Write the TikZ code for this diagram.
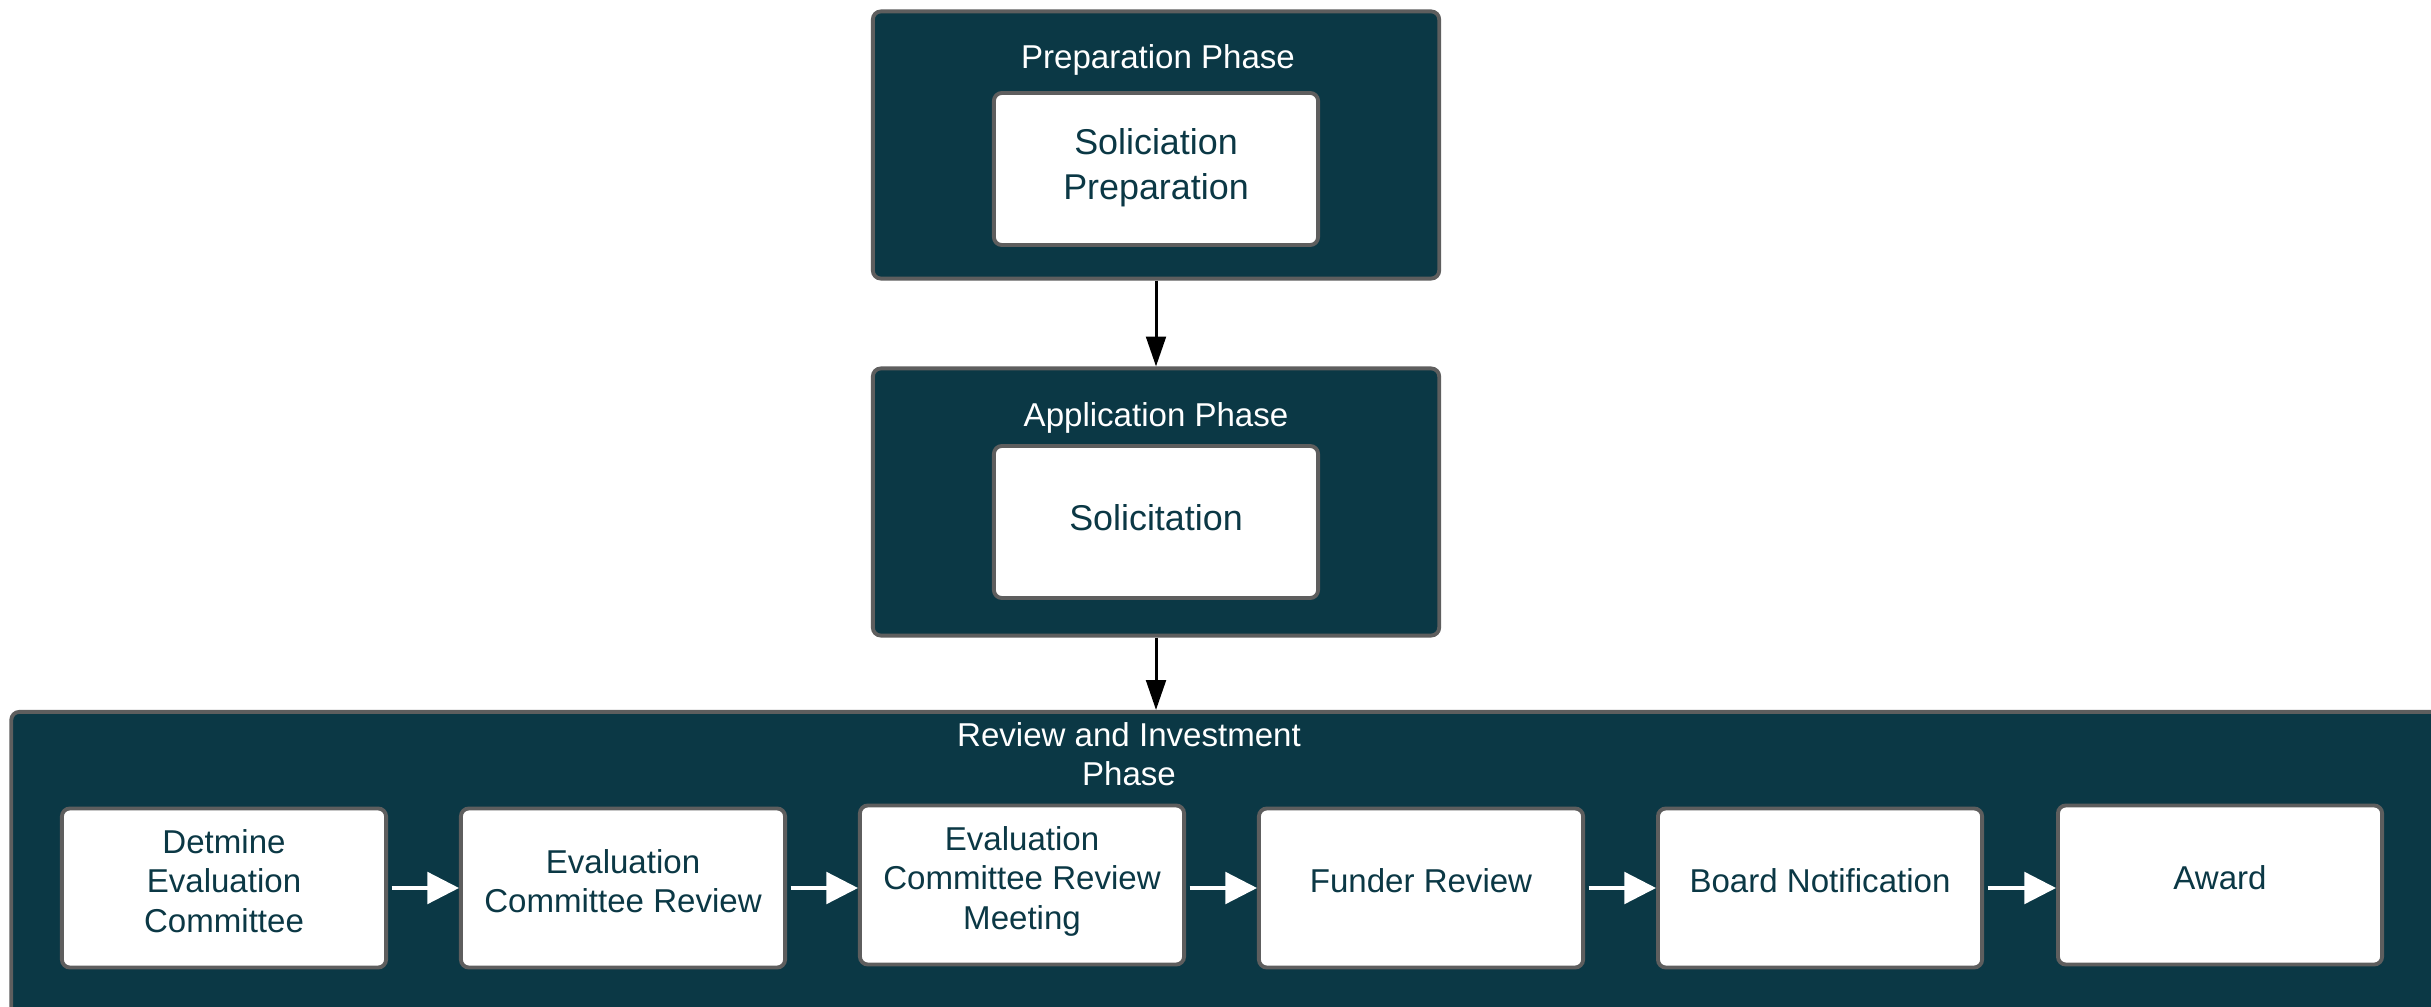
\documentclass[tikz,border=0pt]{standalone}
\usepackage{fontspec}
\setmainfont{Liberation Sans}
\usetikzlibrary{arrows.meta, positioning}
\definecolor{phaseteal}{HTML}{0B3845}
\definecolor{edgegray}{HTML}{5E5E5E}

\begin{document}
\begin{tikzpicture}[x=0.01cm, y=-0.01cm,
    phase/.style={draw=edgegray, line width=1.1pt, fill=phaseteal, rounded corners=0.08cm, minimum width=5.66cm, minimum height=2.67cm},
    phasetitle/.style={text=white, font=\fontsize{9.4}{11.2}\selectfont, align=center},
    stepbox/.style={draw=edgegray, line width=1.1pt, fill=white, rounded corners=0.08cm, minimum width=3.24cm, minimum height=1.52cm, text=phaseteal, align=center, text depth=2.8pt, font=\fontsize{10.2}{12.8}\selectfont},
    taskbox/.style={stepbox, minimum height=1.59cm, text depth=4pt, font=\fontsize{9.4}{11.2}\selectfont},
    flow/.style={-{Triangle[length=8.5pt, width=5.6pt]}, line width=0.85pt, black},
    whiteflow/.style={-{Triangle[length=9pt, width=9pt]}, line width=0.95pt, white}]
    \useasboundingbox (0, 0) rectangle (2431, 1007);
    \clip (0, 0) rectangle (2431, 1007);

    % preparation phase
    \node[phase] (prep) at (1156, 145) {};
    \node[phasetitle] (preptitle) at (1158, 60) {Preparation Phase};
    \node[stepbox] (solprep) at (1156, 169) {Soliciation\\Preparation};

    % application phase
    \node[phase] (app) at (1156, 502) {};
    \node[phasetitle] (apptitle) at (1156, 418) {Application Phase};
    \node[stepbox] (sol) at (1156, 522) {Solicitation};

    % review and investment phase
    \node[phase, minimum width=24.6cm, minimum height=3.3cm] (review) at (1242, 877) {};
    \node[phasetitle] (reviewtitle) at (1129, 754) {Review and Investment\\Phase};
    \node[taskbox] (det) at (224, 888) {Detmine\\Evaluation\\Committee};
    \node[taskbox] (ecr) at (623, 888) {Evaluation\\Committee Review};
    \node[taskbox] (ecrm) at (1022, 885) {Evaluation\\Committee Review\\Meeting};
    \node[taskbox] (funder) at (1421, 888) {Funder Review};
    \node[taskbox] (board) at (1820, 888) {Board Notification};
    \node[taskbox] (award) at (2220, 885) {Award};

    \draw[flow] (prep.south) -- (app.north);
    \draw[flow] (app.south) -- (app.south |- review.north);
    \draw[whiteflow] ([xshift=1pt]det.east) -- (det.east -| ecr.west);
    \draw[whiteflow] ([xshift=1pt]ecr.east) -- (ecr.east -| ecrm.west);
    \draw[whiteflow] ([xshift=1pt]ecrm.east |- funder.west) -- (funder.west);
    \draw[whiteflow] ([xshift=1pt]funder.east) -- (board.west);
    \draw[whiteflow] ([xshift=1pt]board.east) -- (board.east -| award.west);
\end{tikzpicture}
\end{document}
